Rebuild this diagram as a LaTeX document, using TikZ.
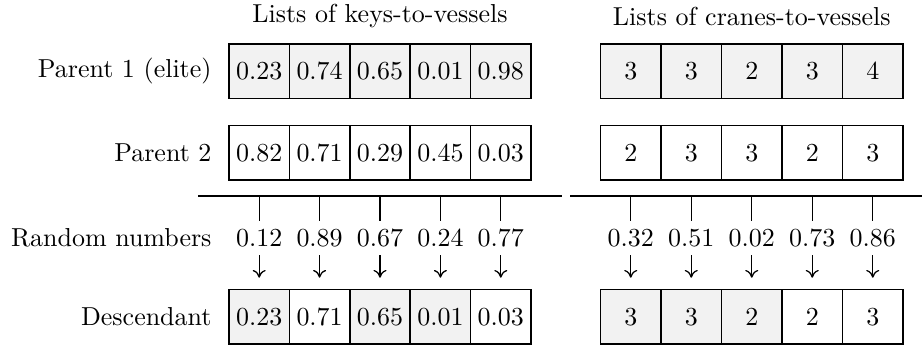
\documentclass[tikz,border=0pt]{standalone}
\usetikzlibrary{arrows.meta}
\begin{document}
\begin{tikzpicture}[x=0.385pt, y=-0.385pt,
  cell/.style={draw, line width=0.6pt, inner sep=0pt, minimum width=23.25pt, minimum height=21pt},
  elite/.style={cell, fill=gray!10},
  plain/.style={cell, fill=white},
  rowlabel/.style={anchor=east, inner sep=0pt},
  title/.style={inner sep=0pt},
  rnum/.style={inner sep=3.2pt},
  bar/.style={line width=0.8pt},
  tick/.style={line width=0.5pt},
  pick/.style={-{To[length=3pt,width=5pt]}, line width=0.5pt, shorten >=4.2pt}
]
\useasboundingbox (0,0) rectangle (922,347);

% column titles
\node[title] (tk) at (380,16) {Lists of keys-to-vessels};
\node[title] (tc) at (751.75,16) {Lists of cranes-to-vessels};

% row labels
\node[rowlabel] (lp1) at (212,71.3) {Parent 1 (elite)};
\node[rowlabel] (lp2) at (212,153) {Parent 2};
\node[rowlabel] (lrn) at (212,238) {Random numbers};
\node[rowlabel] (ld) at (212,316.7) {Descendant};

% parent 1 (elite)
\foreach \v [count=\i] in {0.23,0.74,0.65,0.01,0.98}
  \node[elite] (pa\i) at ({229+60.4*(\i-0.5)},71.3) {$\v$};
\foreach \v [count=\i] in {3,3,2,3,4}
  \node[elite] (pb\i) at ({600.5+60.5*(\i-0.5)},71.3) {$\v$};

% parent 2
\foreach \v [count=\i] in {0.82,0.71,0.29,0.45,0.03}
  \node[plain] (qa\i) at ({229+60.4*(\i-0.5)},153) {$\v$};
\foreach \v [count=\i] in {2,3,3,2,3}
  \node[plain] (qb\i) at ({600.5+60.5*(\i-0.5)},153) {$\v$};

% separators
\coordinate (sl1) at (198,196);
\coordinate (sl2) at (562,196);
\coordinate (sr1) at (570,196);
\coordinate (sr2) at (922,196);
\draw[bar] (sl1) -- (sl2);
\draw[bar] (sr1) -- (sr2);

% random numbers
\foreach \v [count=\i] in {0.12,0.89,0.67,0.24,0.77}
  \node[rnum] (ra\i) at ({229+60.4*(\i-0.5)},238) {$\v$};
\foreach \v [count=\i] in {0.32,0.51,0.02,0.73,0.86}
  \node[rnum] (rb\i) at ({600.5+60.5*(\i-0.5)},238) {$\v$};

% descendant
\foreach \v/\s [count=\i] in {0.23/elite,0.71/plain,0.65/elite,0.01/elite,0.03/plain}
  \node[\s] (da\i) at ({229+60.4*(\i-0.5)},316.7) {$\v$};
\foreach \v/\s [count=\i] in {3/elite,3/elite,2/elite,2/plain,3/plain}
  \node[\s] (db\i) at ({600.5+60.5*(\i-0.5)},316.7) {$\v$};

% ticks and arrows
\foreach \i in {1,...,5} {
  \draw[tick] (ra\i.north |- sl1) -- (ra\i.north);
  \draw[tick] (rb\i.north |- sr1) -- (rb\i.north);
  \draw[pick] (ra\i.south) -- (da\i.north);
  \draw[pick] (rb\i.south) -- (db\i.north);
}
\end{tikzpicture}
\end{document}
